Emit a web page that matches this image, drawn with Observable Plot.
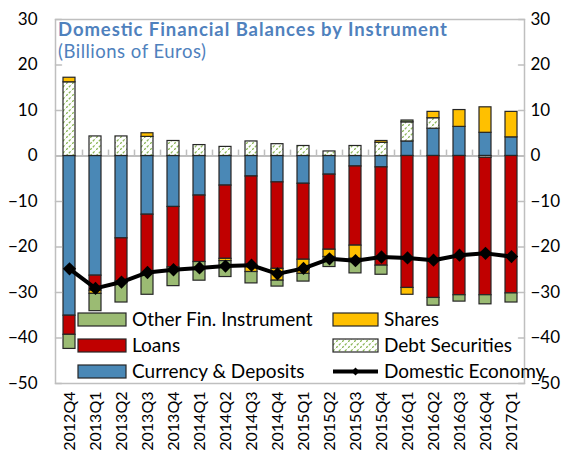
<!DOCTYPE html>
<html>
<head>
<meta charset="utf-8">
<script src="https://cdn.jsdelivr.net/npm/d3@7"></script>
<script src="https://cdn.jsdelivr.net/npm/@observablehq/plot@0.6"></script>
<style>
  html, body { margin: 0; padding: 0; background: #fff; }
  #chart svg { display: block; }
</style>
</head>
<body>
<div id="chart"></div>
<script>
// ---- data ----
const quarters = ["2012Q4","2013Q1","2013Q2","2013Q3","2013Q4","2014Q1","2014Q2","2014Q3","2014Q4",
                  "2015Q1","2015Q2","2015Q3","2015Q4","2016Q1","2016Q2","2016Q3","2016Q4","2017Q1"];
const currency = [-35.1,-26.3,-18.1,-12.9,-11.2,-8.7,-6.5,-4.5,-5.8,-6.1,-4.1,-2.3,-2.5,3.2,6.0,6.4,5.1,4.1];
const debt     = [16.2,4.3,4.3,4.2,3.3,2.4,2.0,3.2,2.6,2.2,1.0,2.2,2.9,4.2,2.3,0,-0.4,0];
const loans    = [-4.2,-3.3,-9.5,-12.9,-13.3,-14.6,-16.1,-19.9,-19.0,-16.7,-16.5,-17.4,-21.6,-29.0,-31.2,-30.6,-30.2,-30.2];
const shares   = [1.0,-0.7,0,0.8,0,0,-0.5,-1.1,-2.6,-3.1,-1.6,-2.9,0.4,-1.5,1.4,3.7,5.6,5.6];
const other    = [-3.1,-3.8,-4.6,-4.7,-4.1,-4.1,-3.5,-2.5,-1.3,-1.7,-2.2,-3.2,-2.0,0.4,-1.7,-1.4,-2.0,-2.0];
const domestic = [-24.8,-29.1,-27.7,-25.6,-25.0,-24.6,-24.2,-24.0,-25.9,-24.7,-22.6,-23.0,-22.2,-22.4,-22.9,-21.8,-21.4,-22.1];

const seriesNames  = ["Currency & Deposits","Debt Securities","Loans","Shares","Other Fin. Instrument"];
const seriesValues = [currency, debt, loans, shares, other];
const seriesColors = ["#4a88b6","url(#debtHatch)","#c00000","#ffc000","#9bbb73"];
const yTicks = [-50,-40,-30,-20,-10,0,10,20,30];

// table for the stacked bars (series-major => stacking order)
const rows = [];
seriesNames.forEach((s, i) => {
  quarters.forEach((q, j) => {
    const v = seriesValues[i][j];
    if (v !== 0) rows.push({quarter: q, series: s, value: v});
  });
});
const lineRows = quarters.map((q, j) => ({quarter: q, value: domestic[j]}));

const tickShape = { draw(context, l) { context.moveTo(0, 0); context.lineTo(0, -l); } };

const chart = Plot.plot({
  width: 573,
  height: 461,
  marginLeft: 55,
  marginRight: 49,
  marginTop: 19,
  marginBottom: 78,
  style: { fontFamily: "Lato, sans-serif", fontSize: "17px", color: "#000", background: "#fff" },
  x: { domain: quarters, paddingInner: 0.55, paddingOuter: 0.275, label: null },
  y: { domain: [-50, 30], label: null },
  color: { domain: seriesNames, range: seriesColors },
  marks: [
    Plot.ruleY([0], { stroke: "#bfbfbf", strokeWidth: 2 }),
    Plot.ruleX(quarters.slice(1), { x: d => d, y1: 0, y2: 1.3, dx: -13, stroke: "#bfbfbf", strokeWidth: 1.5 }),
    Plot.barY(rows, { x: "quarter", y: "value", fill: "series", stroke: "#262626", strokeWidth: 1.2 }),
    Plot.line(lineRows, { x: "quarter", y: "value", stroke: "#000", strokeWidth: 4 }),
    Plot.dot(lineRows, { x: "quarter", y: "value", symbol: "diamond2", r: 6, fill: "#000" }),
    Plot.frame({ stroke: "#bfbfbf", strokeWidth: 1.5 }),
    Plot.vector(yTicks, { y: d => d, frameAnchor: "left", length: 6, rotate: 90, anchor: "start", shape: tickShape, stroke: "#bfbfbf", strokeWidth: 1.5 }),
    Plot.vector(yTicks, { y: d => d, frameAnchor: "right", length: 6, rotate: -90, anchor: "start", shape: tickShape, stroke: "#bfbfbf", strokeWidth: 1.5 }),
    Plot.axisY(yTicks, { anchor: "left", tickSize: 0, tickPadding: 18, fontSize: 17 }),
    Plot.axisY(yTicks, { anchor: "right", tickSize: 0, tickPadding: 6, fontSize: 17 }),
    Plot.axisX({ anchor: "bottom", tickSize: 0, tickRotate: -90, tickPadding: 8, fontSize: 16 })
  ]
});

document.getElementById("chart").appendChild(chart);

// ---- pattern, title and legend ----
const svg = d3.select(chart);
const defs = svg.insert("defs", ":first-child");
const pat = defs.append("pattern")
  .attr("id", "debtHatch").attr("patternUnits", "userSpaceOnUse")
  .attr("width", 6).attr("height", 6);
pat.append("rect").attr("width", 6).attr("height", 6).attr("fill", "#fff");
pat.append("path").attr("d", "M0,6 L6,0").attr("stroke", "#8db85a").attr("stroke-width", 1.3)
  .attr("stroke-dasharray", "2.5,1.5");

const titleColor = "#4f81bd";
const tg = svg.append("g").attr("text-anchor", "start").attr("font-family", "Lato, sans-serif").attr("fill", titleColor);
tg.append("text").attr("x", 58).attr("y", 36)
  .attr("font-size", 18.5).attr("font-weight", "bold")
  .attr("textLength", 389).attr("lengthAdjust", "spacing")
  .text("Domestic Financial Balances by Instrument");
tg.append("text").attr("x", 58).attr("y", 58)
  .attr("font-size", 18.5)
  .attr("textLength", 148).attr("lengthAdjust", "spacing")
  .text("(Billions of Euros)");

const legendItems = [
  { name: "Other Fin. Instrument", fill: "#9bbb73", col: 0, row: 0 },
  { name: "Loans", fill: "#c00000", col: 0, row: 1 },
  { name: "Currency & Deposits", fill: "#4a88b6", col: 0, row: 2 },
  { name: "Shares", fill: "#ffc000", col: 1, row: 0 },
  { name: "Debt Securities", fill: "url(#debtHatch)", col: 1, row: 1 },
  { name: "Domestic Economy", line: true, col: 1, row: 2 }
];
const colX = [78, 333], colW = [48, 45], rowY = [319.5, 345.5, 371.5];
const lg = svg.append("g").attr("text-anchor", "start").attr("font-family", "Lato, sans-serif").attr("font-size", 19);
legendItems.forEach(it => {
  const x = colX[it.col], y = rowY[it.row], w = colW[it.col];
  if (it.line) {
    lg.append("line").attr("x1", x).attr("x2", x + w).attr("y1", y).attr("y2", y)
      .attr("stroke", "#000").attr("stroke-width", 4);
    lg.append("path").attr("d", d3.symbol(d3.symbolDiamond2, 40)()).attr("transform", `translate(${x + w / 2},${y})`).attr("fill", "#000");
  } else {
    lg.append("rect").attr("x", x).attr("y", y - 6.5).attr("width", w).attr("height", 13)
      .attr("fill", it.fill).attr("stroke", "#262626").attr("stroke-width", 1.2);
  }
  lg.append("text").attr("x", x + w + 6).attr("y", y + 6.5).attr("fill", "#000").text(it.name);
});
</script>
</body>
</html>
